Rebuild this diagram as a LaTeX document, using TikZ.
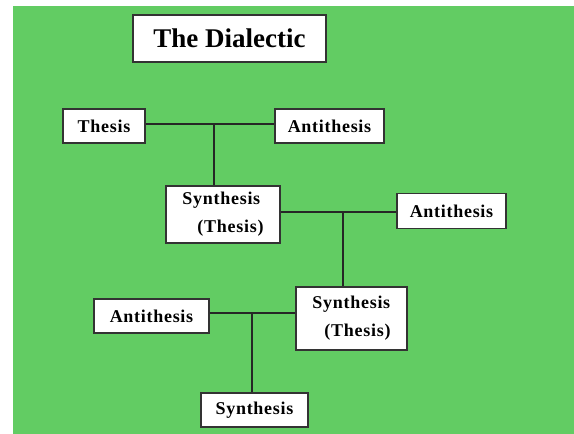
\documentclass[tikz,border=0pt]{standalone}
\usepackage{fontspec}
\setmainfont{Liberation Serif}
\newfontfamily\boxfont[LetterSpace=4]{Liberation Serif}
\definecolor{bggreen}{RGB}{98,204,99}
\tikzset{
  box/.style={
      rectangle, draw=black!80, line width=1.2pt, fill=white,
      inner sep=0pt, minimum height=34pt,
      font=\boxfont\bfseries\fontsize{18}{28}\selectfont,
  },
  pair/.style={
      box, align=left,
  },
  link/.style={
    draw=black!85, line width=1.3pt,
  }
}

\begin{document}
\begin{tikzpicture}[x=1pt,y=-1pt]
\fill [white] (0,0) rectangle (574,434);
\fill [bggreen] (13,6) rectangle (574,434);

\node [box, minimum width=193pt, minimum height=47pt, font=\bfseries\fontsize{27}{30}\selectfont] (title) at (229.5,38.5) {The Dialectic};

\node [box, minimum width=82pt] (thesis) at (104,126) {Thesis};
\node [box, minimum width=109pt] (anti1) at (329.5,126) {Antithesis};
\node [pair, minimum width=114pt, minimum height=57pt] (syn1) at (223,214.5) {Synthesis\\\hspace*{15pt}(Thesis)};
\node [box, minimum width=109pt, minimum height=35pt] (anti2) at (451.5,211) {Antithesis};
\node [pair, minimum width=111pt, minimum height=63pt] (syn2) at (351.5,318.5) {Synthesis\\\hspace*{12pt}(Thesis)};
\node [box, minimum width=115pt] (anti3) at (151.5,316) {Antithesis};
\node [box, minimum width=107pt] (syn3) at (254.5,410) {Synthesis};

\coordinate (j1) at (214,124);
\coordinate (j2) at (343,212);
\coordinate (j3) at (252,313);

\draw [link] (thesis.east |- j1) -- (anti1.west |- j1);
\draw [link] (j1) -- (j1 |- syn1.north);
\draw [link] (syn1.east |- j2) -- (anti2.west |- j2);
\draw [link] (j2) -- (j2 |- syn2.north);
\draw [link] (syn2.west |- j3) -- (anti3.east |- j3);
\draw [link] (j3) -- (j3 |- syn3.north);
\end{tikzpicture}
\end{document}
